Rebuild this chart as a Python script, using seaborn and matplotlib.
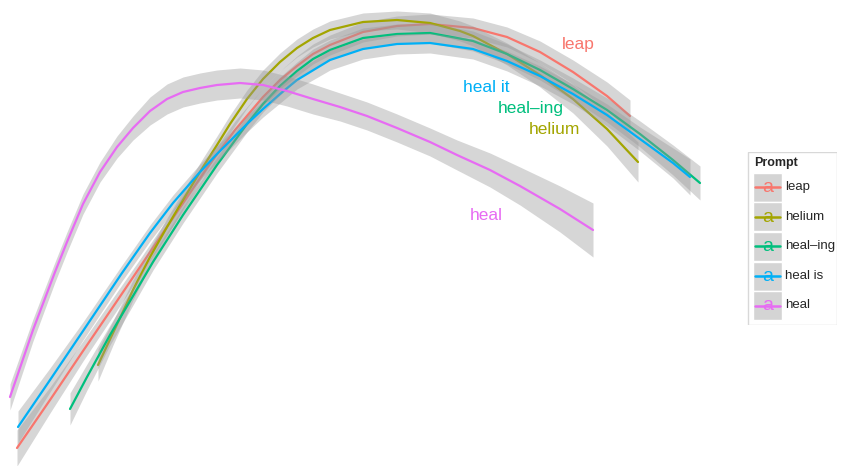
import matplotlib
matplotlib.use("Agg")
import matplotlib.pyplot as plt
import seaborn as sns
import numpy as np
import pandas as pd
from matplotlib.patches import Rectangle

sns.set_style("white")
plt.rcParams['font.family'] = ['Liberation Sans', 'DejaVu Sans']

prompts = ["leap", "helium", "heal\u2013ing", "heal is", "heal"]
colors = ["#F8766D", "#A3A500", "#00BF7D", "#00B0F6", "#E76BF3"]

# values (y axis runs downward), with ribbon half-widths
leap_x = [17, 50, 83, 117, 140, 175, 207, 235, 263, 280, 297, 313, 330, 363, 397, 430, 473, 507, 540, 573, 607, 630]
leap_y = [448, 400, 351, 301, 267, 215, 168, 130, 97, 80, 66, 54, 45, 32, 26, 24, 28, 37, 52, 72, 96, 116]
leap_se = [18, 13, 10, 9, 8, 8, 8, 9, 9, 9, 10, 10, 10, 10, 10, 10, 10, 10, 11, 12, 14, 16]

helium_x = [98, 113, 133, 150, 167, 183, 203, 217, 230, 247, 263, 280, 297, 313, 330, 363, 397, 430, 460, 473, 507, 540, 573, 607, 638]
helium_y = [365, 333, 290, 257, 227, 200, 167, 145, 124, 99, 79, 62, 48, 38, 30, 22, 20, 23, 31, 36, 54, 75, 99, 129, 162]
helium_se = [16, 12, 10, 9, 9, 9, 9, 9, 9, 9, 9, 9, 9, 9, 9, 9, 9, 10, 10, 10, 11, 12, 14, 17, 20]

healing_x = [70, 87, 110, 133, 153, 183, 217, 247, 263, 280, 297, 313, 330, 363, 397, 430, 473, 507, 540, 573, 607, 640, 673, 700]
healing_y = [409, 377, 335, 296, 262, 215, 165, 124, 104, 86, 71, 59, 50, 38, 34, 33, 41, 54, 70, 89, 110, 134, 160, 183]
healing_se = [16, 13, 10, 9, 8, 8, 8, 8, 8, 9, 9, 10, 10, 10, 10, 10, 10, 10, 10, 11, 12, 13, 15, 17]

healis_x = [18, 50, 83, 122, 150, 173, 200, 217, 247, 263, 280, 297, 330, 363, 397, 430, 473, 507, 540, 573, 607, 640, 673, 690]
healis_y = [427, 380, 331, 273, 233, 203, 172, 154, 124, 109, 94, 80, 60, 49, 44, 43, 49, 61, 76, 94, 115, 139, 163, 177]
healis_se = [16, 12, 9, 8, 8, 8, 8, 8, 8, 8, 9, 9, 10, 10, 10, 10, 10, 10, 10, 10, 11, 12, 15, 18]

heal_x = [10, 33, 55, 67, 83, 100, 117, 133, 150, 167, 183, 200, 217, 240, 263, 287, 313, 340, 367, 397, 430, 457, 490, 520, 560, 593]
heal_y = [397, 330, 272, 242, 204, 172, 147, 128, 111, 99, 92, 88, 85, 83, 85, 91, 99, 107, 116, 128, 142, 155, 170, 186, 209, 230]
heal_se = [13, 11, 10, 10, 10, 10, 11, 12, 14, 15, 15, 15, 15, 15, 15, 15, 15, 14, 14, 14, 14, 15, 17, 19, 23, 27]

label_text = ["leap", "helium", "heal\u2013ing", "heal it", "heal"]
label_x = [578, 554, 531, 486, 486]
label_y = [45, 129, 109, 87, 215]

series = [
    (leap_x, leap_y, leap_se),
    (helium_x, helium_y, helium_se),
    (healing_x, healing_y, healing_se),
    (healis_x, healis_y, healis_se),
    (heal_x, heal_y, heal_se),
]

frames = []
for name, (xs, ys, se) in zip(prompts, series):
    frames.append(pd.DataFrame({"x": xs, "y": ys, "se": se, "Prompt": name}))
df = pd.concat(frames, ignore_index=True)

fig = plt.figure(figsize=(8.41, 4.66), dpi=100)
ax = fig.add_axes([0, 0, 1, 1])

pal = dict(zip(prompts, colors))
for i, name in enumerate(prompts):
    d = df[df.Prompt == name]
    ax.fill_between(d.x, d.y - d.se, d.y + d.se, color="#999999", alpha=0.4, lw=0, zorder=1 + 2 * i)
    sns.lineplot(data=d, x="x", y="y", color=pal[name], sort=False, estimator=None,
                 lw=1.6, ax=ax, legend=False, zorder=2 + 2 * i)

for txt, lx, ly, c in zip(label_text, label_x, label_y, colors):
    ax.text(lx, ly, txt, color=c, fontsize=12.5, ha="center", va="center", zorder=20)

ax.set_xlim(0, 841)
ax.set_ylim(466, 0)
ax.axis("off")

# legend drawn manually (ggplot style)
lax = fig.add_axes([747 / 841, 1 - 325 / 466, 90 / 841, 173 / 466])
lax.set_xlim(0, 90)
lax.set_ylim(173, 0)
lax.axis("off")
lax.add_patch(Rectangle((0.5, 0.5), 89, 172, fill=False, ec="#d8d8d8", lw=1))
lax.text(7, 11, "Prompt", fontsize=9, fontweight="bold", va="center", ha="left")
for i, (name, c) in enumerate(zip(prompts, colors)):
    top = 21 + i * 29.5
    lax.add_patch(Rectangle((6, top), 29, 29, fc="#d4d4d4", ec="white", lw=1))
    cy = top + 14.5
    lax.plot([8, 33], [cy, cy], color=c, lw=1.8)
    lax.text(20.5, cy + 0.5, "a", color=c, fontsize=14, ha="center", va="center")
    lax.text(38, cy, name, fontsize=9.5, ha="left", va="center")

fig.savefig("out.png", dpi=100)
